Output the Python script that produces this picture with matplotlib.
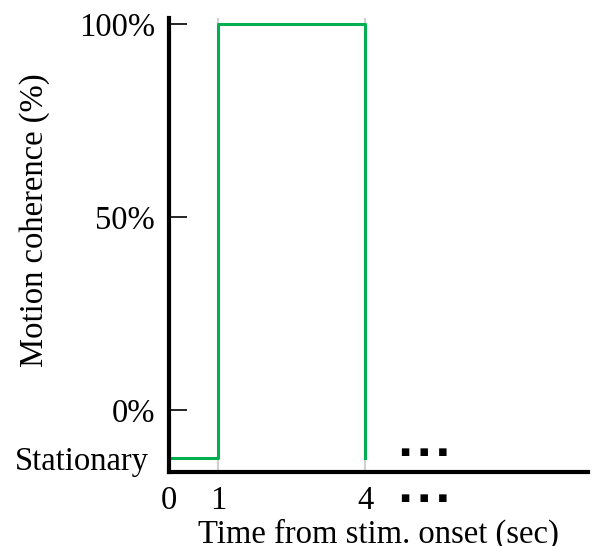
import numpy as np
import matplotlib.pyplot as plt
from matplotlib.transforms import ScaledTranslation

plt.rcParams['font.family'] = ['Liberation Serif', 'DejaVu Serif']

# step profile of motion coherence over time
time_sec = [0, 1, 1, 4, 4]
coherence = [-0.124, -0.124, 1.0, 1.0, -0.124]
stationary = -0.124

y_ticks = [stationary, 0.0, 0.5, 1.0]
y_labels = ['Stationary', '0%', '50%', '100%']
x_ticks = [0, 1, 4]
x_labels = ['0', '1', '4']
event_times = [1, 4]

green = '#00b050'
fs = 23.5

fig = plt.figure(figsize=(5.93, 5.46), dpi=100)
ax = fig.add_axes([0.285, 0.1355, 0.707, 0.8315])

for t in event_times:
    ax.axvline(t, color='#d0d0d0', lw=1.5, zorder=1)
ax.plot(time_sec, coherence, color=green, lw=2.2, zorder=2)

ax.set_xlim(0, 8.55)
ax.set_ylim(-0.1606, 1.0155)

ax.spines['top'].set_visible(False)
ax.spines['right'].set_visible(False)
ax.spines['left'].set_linewidth(3)
ax.spines['bottom'].set_linewidth(3)

ax.set_yticks(y_ticks)
ax.set_yticklabels(y_labels, fontsize=fs)
ax.tick_params(axis='y', direction='in', length=13, width=1.2, pad=10)
ax.yaxis.get_major_ticks()[0].tick1line.set_visible(False)
# "Stationary" sits a little further from the axis
lab = ax.get_yticklabels()[0]
lab.set_transform(lab.get_transform() + ScaledTranslation(-0.06, 0, fig.dpi_scale_trans))

ax.set_xticks(x_ticks)
ax.set_xticklabels(x_labels, fontsize=fs)
ax.tick_params(axis='x', length=0, pad=10)

ax.set_xlabel('Time from stim. onset (sec)', fontsize=fs, labelpad=2)
ax.set_ylabel('Motion coherence (%)', fontsize=fs)
ax.yaxis.set_label_coords(-0.284, 0.555)

# continuation marks
dots = '\u25a0   \u25a0   \u25a0'
ax.text(5.2, -0.109, dots, fontsize=7, family='DejaVu Sans',
        ha='center', va='center')
ax.text(5.2, -0.057, dots, fontsize=7, family='DejaVu Sans',
        ha='center', va='center', transform=ax.get_xaxis_transform())

fig.savefig('out.png', dpi=100)
